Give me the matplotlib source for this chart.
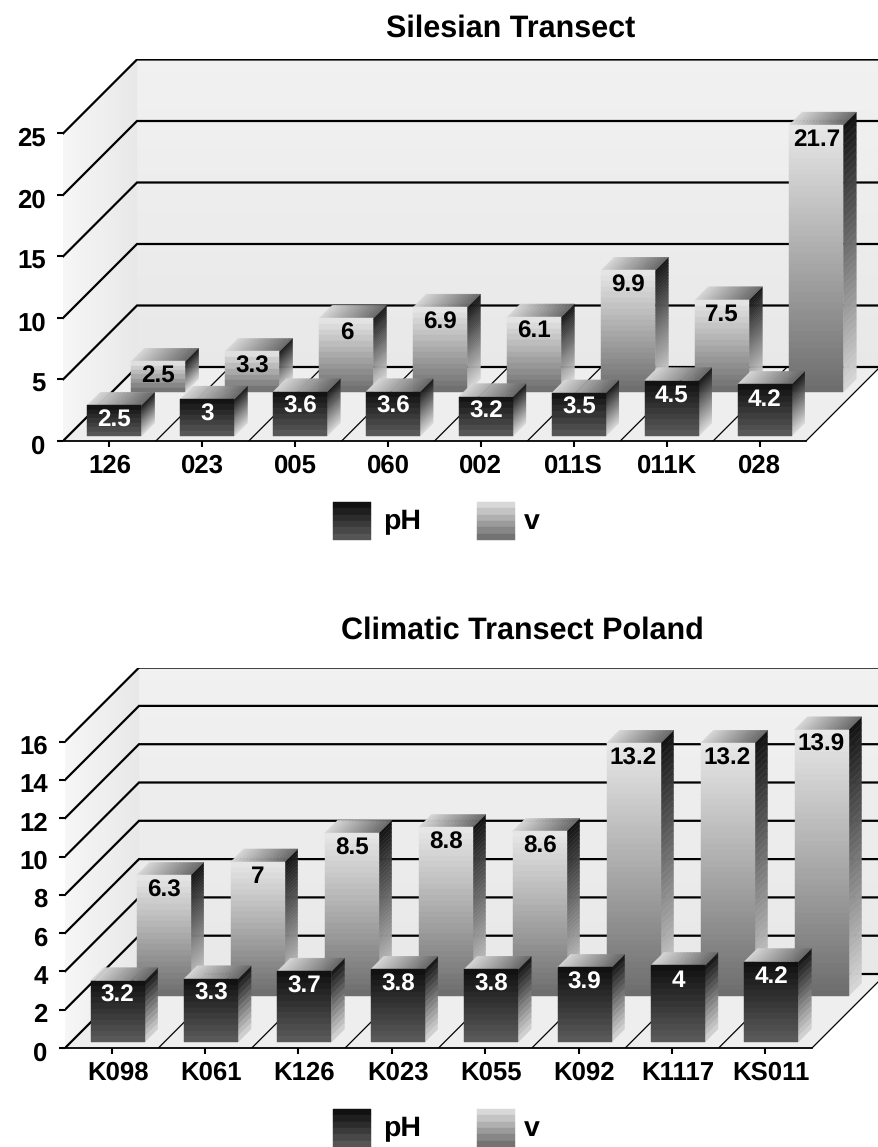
import matplotlib
matplotlib.use('Agg')
import matplotlib.pyplot as plt
import numpy as np
from matplotlib.transforms import ScaledTranslation

plt.rcParams['font.family'] = ['Liberation Sans', 'DejaVu Sans']
plt.rcParams['font.weight'] = 'bold'
plt.rcParams['text.hinting'] = 'no_hinting'

# Silesian transect
sil_sites = ['126', '023', '005', '060', '002', '011S', '011K', '028']
sil_ph = [2.5, 3, 3.6, 3.6, 3.2, 3.5, 4.5, 4.2]
sil_v = [2.5, 3.3, 6, 6.9, 6.1, 9.9, 7.5, 21.7]
sil_ticks = [0, 5, 10, 15, 20, 25]

# Climatic transect
pol_sites = ['K098', 'K061', 'K126', 'K023', 'K055', 'K092', 'K1117', 'KS011']
pol_ph = [3.2, 3.3, 3.7, 3.8, 3.8, 3.9, 4, 4.2]
pol_v = [6.3, 7, 8.5, 8.8, 8.6, 13.2, 13.2, 13.9]
pol_ticks = [0, 2, 4, 6, 8, 10, 12, 14, 16]

W, H = 879, 1147
BAR_W = 54
BAR_D = 13
WALL_D = 74


def grey(v):
    return (v / 255, v / 255, v / 255)


def make_axes(fig, left, right, floor, unit, top_tick):
    # axes box in pixels, with x in category units and y in value units
    cat_w = (right - left) / 8
    top = floor - top_tick * unit - WALL_D
    ax = fig.add_axes([left / W, 1 - floor / H, (W - left) / W, (floor - top) / H])
    ax.set_xlim(-0.5, -0.5 + (W - left) / cat_w)
    ax.set_ylim(0, (floor - top) / unit)
    ax.set_facecolor('none')
    return ax, cat_w


def face_x(ax, xs, ys, c_from, c_to, n):
    # parallelogram shaded left to right; points run front-left, front-right, back-right, back-left
    for i in range(n):
        a, b = i / n, (i + 1) / n
        px = [xs[0] + (xs[1] - xs[0]) * a, xs[0] + (xs[1] - xs[0]) * b,
              xs[3] + (xs[2] - xs[3]) * b, xs[3] + (xs[2] - xs[3]) * a]
        py = [ys[0] + (ys[1] - ys[0]) * a, ys[0] + (ys[1] - ys[0]) * b,
              ys[3] + (ys[2] - ys[3]) * b, ys[3] + (ys[2] - ys[3]) * a]
        ax.fill(px, py, color=grey(c_from + (c_to - c_from) * (i + 0.5) / n), lw=0.3, zorder=ax.zcount)


def face_y(ax, xs, ys, c_top, c_bot, n):
    # quad shaded top to bottom in flat bands; points run top-left, top-right, bottom-right, bottom-left
    for i in range(n):
        a, b = i / n, (i + 1) / n
        px = [xs[0] + (xs[3] - xs[0]) * a, xs[1] + (xs[2] - xs[1]) * a,
              xs[1] + (xs[2] - xs[1]) * b, xs[0] + (xs[3] - xs[0]) * b]
        py = [ys[0] + (ys[3] - ys[0]) * a, ys[1] + (ys[2] - ys[1]) * a,
              ys[1] + (ys[2] - ys[1]) * b, ys[0] + (ys[3] - ys[0]) * b]
        ax.fill(px, py, color=grey(c_top + (c_bot - c_top) * (i + 0.5) / n), lw=0.3, zorder=ax.zcount)


def draw_box(ax, x, val, depth, cat_w, unit, front, side, side_bands, label_color, label):
    # x is the category centre, depth is how far back on the floor (pixels)
    dx = depth / cat_w
    dy = depth / unit
    hw = BAR_W / 2 / cat_w
    bx = BAR_D / cat_w
    by = BAR_D / unit
    x0, x1 = x + dx - hw, x + dx + hw
    y0, y1 = dy, dy + val
    ax.zcount += 1
    bands = max(7, int(val * unit / 5.5))
    face_y(ax, [x1, x1 + bx, x1 + bx, x1], [y1, y1 + by, y0 + by, y0], side[0], side[1], side_bands or bands)
    face_x(ax, [x0, x1, x1 + bx, x0 + bx], [y1, y1, y1 + by, y1 + by], 215, 105, 16)
    face_y(ax, [x0, x1, x1, x0], [y1, y1, y0, y0], front[0], front[1], bands)
    ax.text(x + dx, y1 - 15 / unit, label, color=label_color, ha='center', va='center',
            fontsize=17.5, zorder=ax.zcount + 0.5)


def draw_chart(fig, title, title_x, title_y, sites, ph, v, ticks, left, right, floor, unit,
               ph_depth, v_depth, v_spread, ph_side_bands, label_shift):
    ax, cat_w = make_axes(fig, left, right, floor, unit, ticks[-1])
    ax.zcount = 1
    wx = WALL_D / cat_w
    wy = WALL_D / unit
    n = len(sites)
    xa, xb = -0.5, -0.5 + n
    xmax = ax.get_xlim()[1]
    top = ticks[-1]

    # walls and floor
    face_y(ax, [xa + wx, xmax, xmax, xa + wx], [top + wy, top + wy, wy, wy], 241, 232, 24)
    face_x(ax, [xa, xa + wx, xa + wx, xa], [0, wy, top + wy, top], 246, 232, 16)
    face_x(ax, [xa, xb, xb + wx, xa + wx], [0, 0, wy, wy], 238, 238, 1)

    # grid lines on the two walls
    for t in ticks:
        ax.plot([xa, xa + wx, xmax], [t, t + wy, t + wy], color='black', lw=1.6,
                solid_joinstyle='miter', zorder=2)
    # floor dividers between categories
    for k in range(1, n):
        ax.plot([xa + k, xa + k + wx], [0, wy], color='black', lw=0.9, zorder=2)
    ax.plot([xb, xb + wx], [0, wy], color='black', lw=0.9, zorder=2)

    ax.zcount = 3
    for i in range(n):
        draw_box(ax, i * v_spread, v[i], v_depth, cat_w, unit, (232, 108), (18, 215), 40, 'black', f'{v[i]:g}')
    for i in range(n):
        draw_box(ax, i, ph[i], ph_depth, cat_w, unit, (14, 92), (18, 215), ph_side_bands, 'white', f'{ph[i]:g}')

    ax.set_xticks(range(n))
    ax.set_xticklabels(sites)
    ax.set_yticks(ticks)
    for s in ['top', 'right', 'left']:
        ax.spines[s].set_visible(False)
    ax.spines['bottom'].set_bounds(xa, xb)
    ax.spines['bottom'].set_linewidth(1.3)
    ax.spines['bottom'].set_zorder(2)
    ax.tick_params(axis='y', length=4.5, width=1.5, pad=8, labelsize=18.5)
    ax.tick_params(axis='x', length=4, width=1.5, pad=5, labelsize=18.5)

    # baseline-aligned site names so every label sits on the same line
    shift = ScaledTranslation(label_shift / fig.dpi, -19.5 / fig.dpi, fig.dpi_scale_trans)
    for lab in ax.get_xticklabels():
        lab.set_verticalalignment('baseline')
        lab.set_transform(lab.get_transform() + shift)
    down = ScaledTranslation(0, -3 / fig.dpi, fig.dpi_scale_trans)
    for lab in ax.get_yticklabels():
        lab.set_transform(lab.get_transform() + down)

    fig.text(title_x / W, 1 - title_y / H, title, ha='center', va='center', fontsize=22)
    return ax


def draw_legend(fig, box_y):
    lax = fig.add_axes([0, 0, 1, 1])
    lax.set_xlim(0, W)
    lax.set_ylim(H, 0)
    lax.axis('off')
    lax.zcount = 1
    size = 38
    for x, shade in [(333, (10, 92)), (477, (226, 105))]:
        face_y(lax, [x, x + size, x + size, x], [box_y, box_y, box_y + size, box_y + size], shade[0], shade[1], 6)
    lax.text(383, box_y + 27, 'pH', fontsize=20.5, va='baseline', ha='left')
    lax.text(524, box_y + 27, 'v', fontsize=20.5, va='baseline', ha='left')


fig = plt.figure(figsize=(W / 100, H / 100), dpi=100)

draw_chart(fig, 'Silesian Transect', 511, 29, sil_sites, sil_ph, sil_v, sil_ticks,
           63, 806, 441, 12.3, 5, 49, 94 / 92.9, 40, 0)
draw_chart(fig, 'Climatic Transect Poland', 522, 631, pol_sites, pol_ph, pol_v, pol_ticks,
           65, 812, 1048, 19.15, 6, 52, 94 / 93.4, None, 6)

draw_legend(fig, 502)
draw_legend(fig, 1109)

fig.savefig('out.png', dpi=100)
